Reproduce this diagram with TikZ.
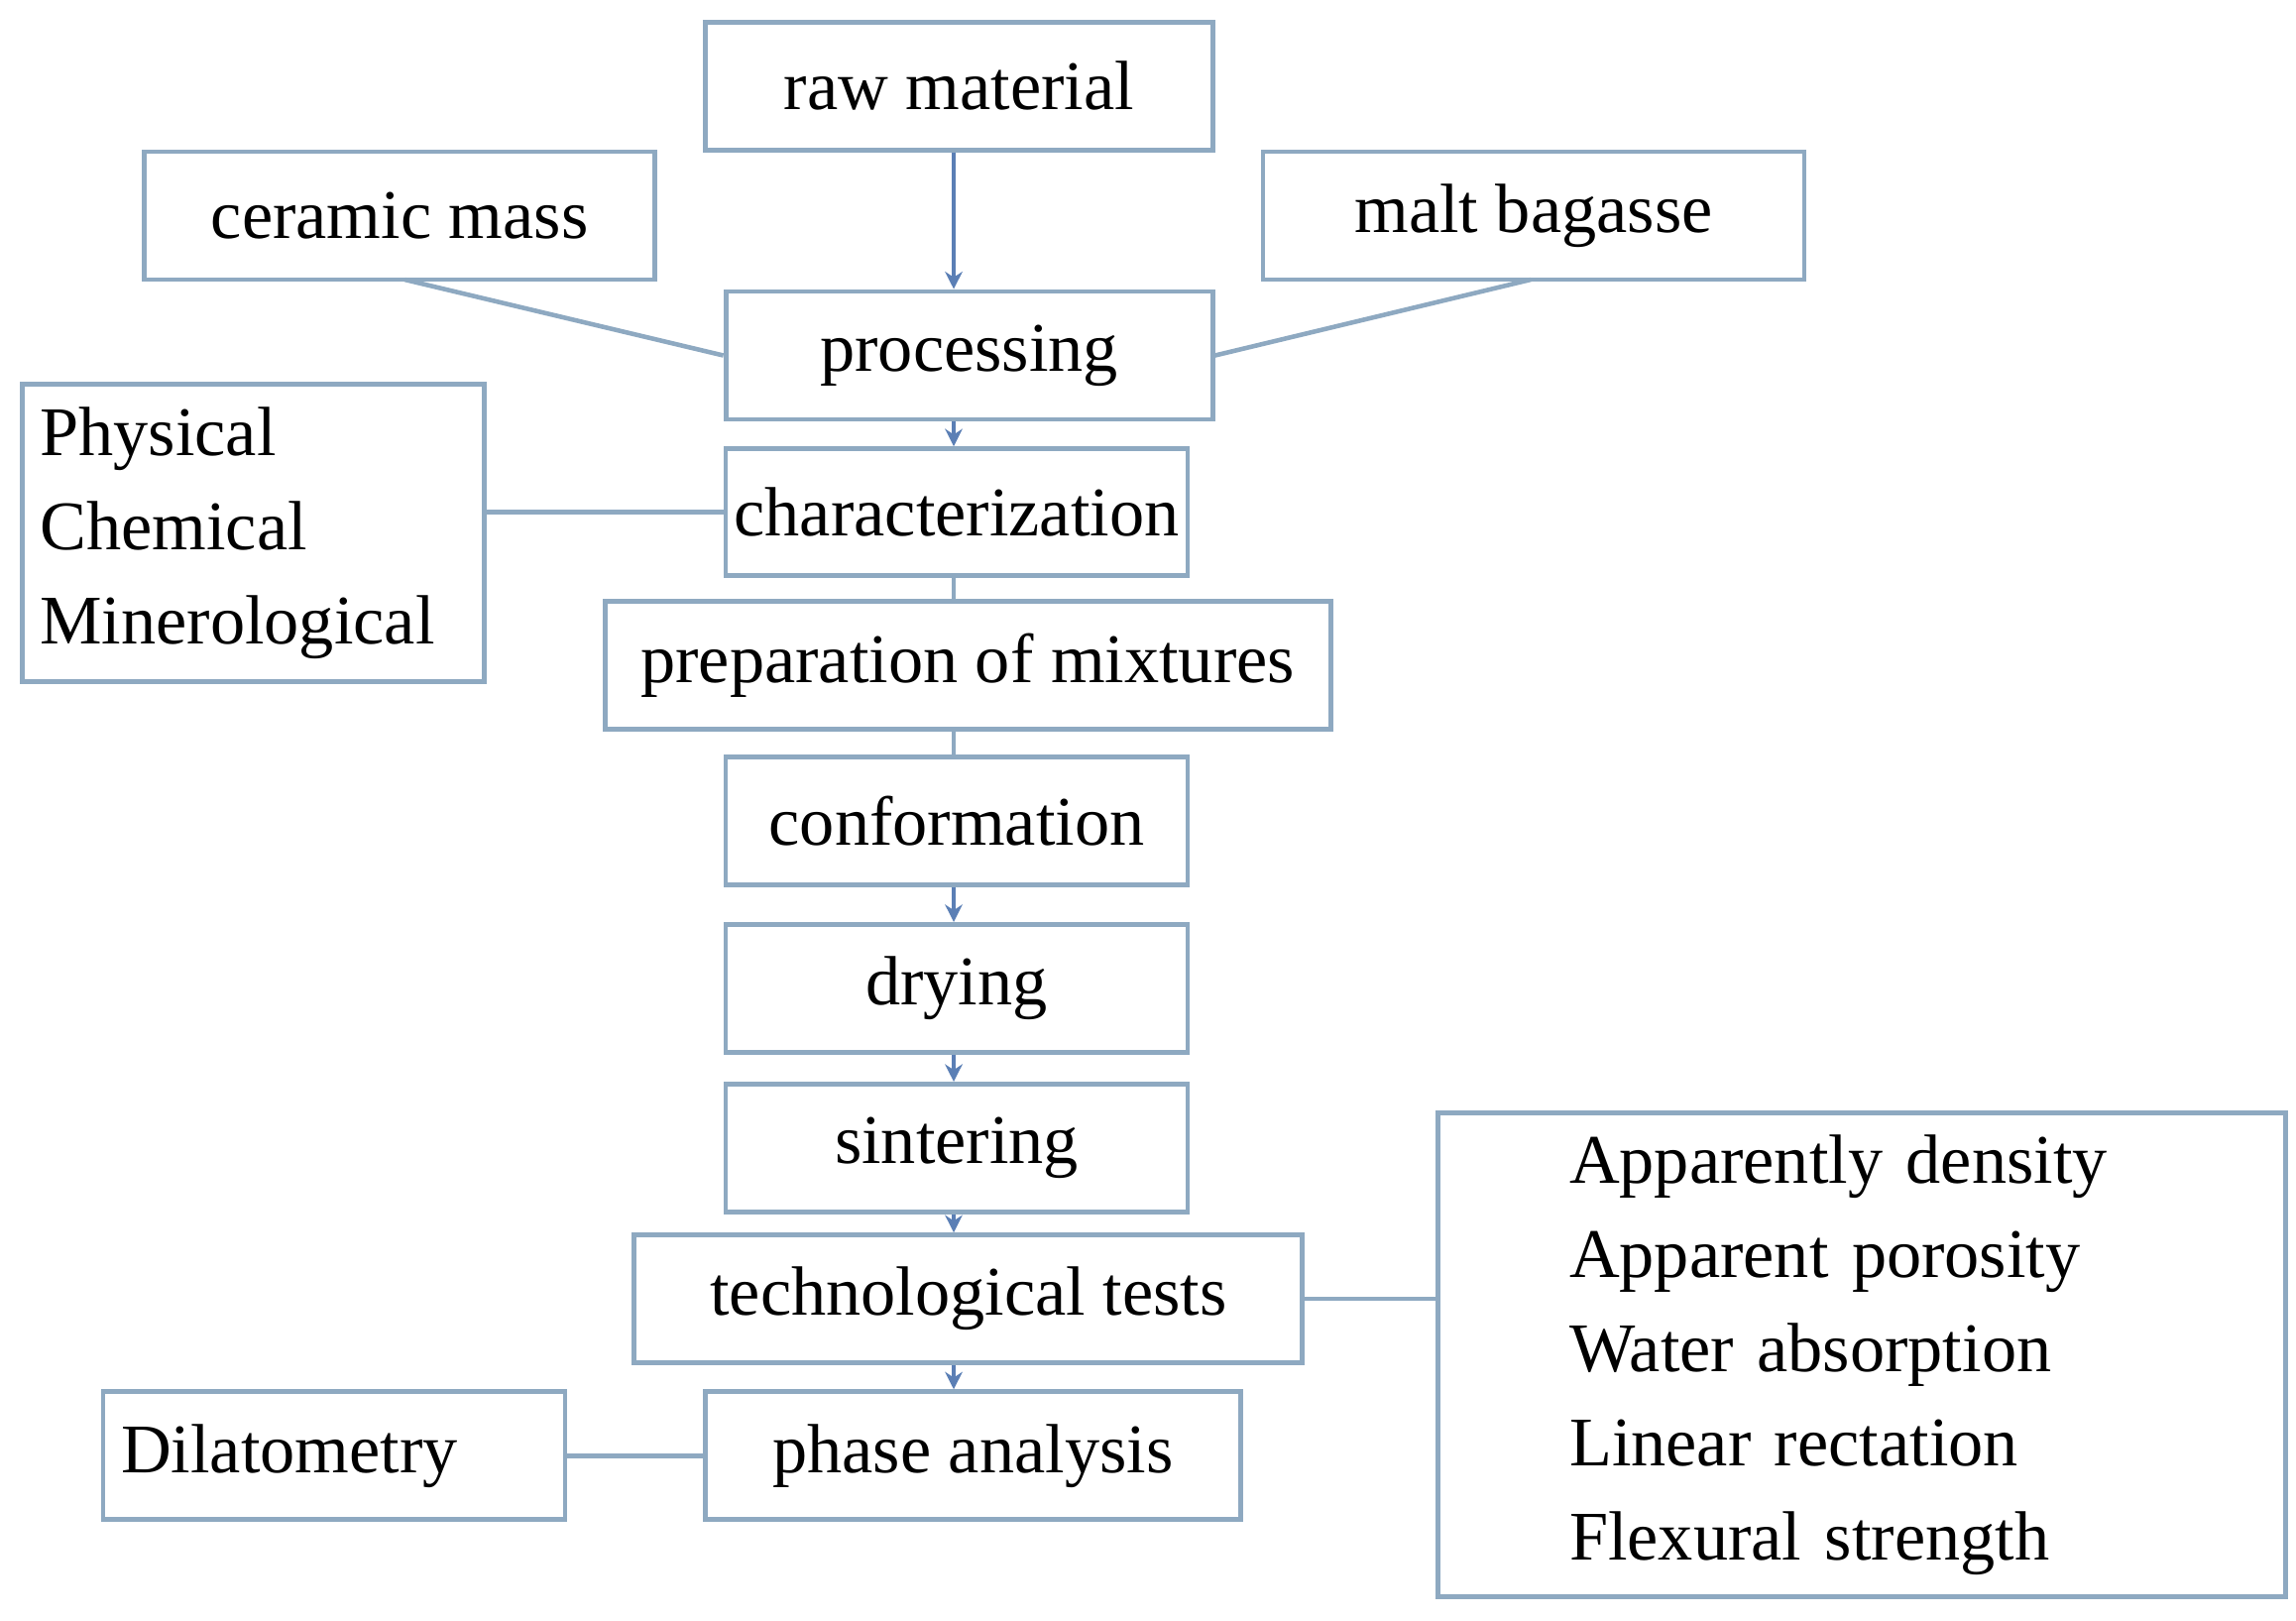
\documentclass[tikz,border=0pt]{standalone}
\usepackage{fontspec}
\setmainfont{Liberation Serif}
\usetikzlibrary{arrows.meta}
\definecolor{boxline}{HTML}{8EA9C1}
\definecolor{arrline}{HTML}{5B7FB5}
\tikzset{
  stage/.style={draw=boxline, line width=1.4pt, minimum height=1.29cm, inner sep=2pt,
    font=\fontsize{20}{27}\selectfont},
  link/.style={draw=boxline, line width=1.3pt},
  arr/.style={draw=arrline, line width=1.3pt, -{Stealth[length=5pt,width=5pt]}}
}
\begin{document}
\begin{tikzpicture}[x=0.014846cm, y=-0.014846cm]
  \useasboundingbox (0,0) rectangle (1560,1101);
  \node[stage, minimum width=5.12cm] (raw) at (651.5,58.5) {raw material};
  \node[stage, minimum width=5.15cm] (ceramic) at (271.5,146.5) {ceramic mass};
  \node[stage, minimum width=5.46cm] (malt) at (1042,146.5) {malt bagasse};
  \node[stage, minimum width=4.91cm] (proc) at (658.5,241.5) {processing};
  \node[stage, minimum width=4.66cm, minimum height=1.28cm] (char) at (650,348) {characterization};
  \node[stage, minimum width=4.66cm, minimum height=3.0cm, text width=4.3cm, align=left] (props) at (172,362)
    {Physical\\Chemical\\Minerological};
  \node[stage, minimum width=7.32cm] (prep) at (657.5,452) {preparation of mixtures};
  \node[stage, minimum width=4.66cm] (conf) at (650,558) {conformation};
  \node[stage, minimum width=4.66cm] (dry) at (650,671.5) {drying};
  \node[stage, minimum width=4.66cm] (sint) at (650,780) {sintering};
  \node[stage, minimum width=6.74cm] (tech) at (658,882.5) {technological tests};
  \node[stage, minimum width=5.40cm] (phase) at (661,989) {phase analysis};
  \node[stage, minimum width=4.66cm, text width=4.3cm, align=left] (dila) at (227,989) {Dilatometry};
  \node[stage, minimum width=8.55cm, minimum height=4.88cm, text width=5.9cm, align=left] (tests) at (1265,920.5)
    {Apparently density\\Apparent porosity\\Water absorption\\Linear rectation\\Flexural strength};

  \coordinate (cm) at (275,190);
  \coordinate (mb) at (1040,190);
  \draw[arr] (raw.south -| 648,0) -- (proc.north -| 648,0);
  \draw[link] (cm) -- (proc.west);
  \draw[link] (mb) -- (proc.east);
  \draw[arr] (proc.south -| 648,0) -- (char.north -| 648,0);
  \draw[link] (props.east |- char) -- (char.west);
  \draw[link] (char.south -| 648,0) -- (prep.north -| 648,0);
  \draw[link] (prep.south -| 648,0) -- (conf.north -| 648,0);
  \draw[arr] (conf.south -| 648,0) -- (dry.north -| 648,0);
  \draw[arr] (dry.south -| 648,0) -- (sint.north -| 648,0);
  \draw[arr] (sint.south -| 648,0) -- (tech.north -| 648,0);
  \draw[arr] (tech.south -| 648,0) -- (phase.north -| 648,0);
  \draw[link] (tech.east) -- (tests.west |- tech);
  \draw[link] (dila.east) -- (phase.west);
\end{tikzpicture}
\end{document}
